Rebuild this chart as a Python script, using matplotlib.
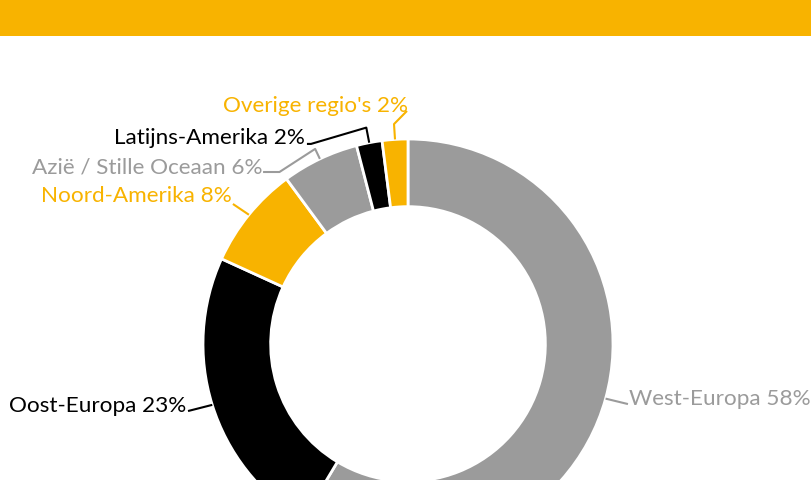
import numpy as np
import matplotlib.pyplot as plt
from matplotlib.patches import Rectangle

# Data
regios = ['West-Europa', 'Oost-Europa', 'Noord-Amerika', 'Azië / Stille Oceaan',
          'Latijns-Amerika', "Overige regio's"]
aandeel = [58, 23, 8, 6, 2, 2]

ORANJE = '#F8B300'
GRIJS = '#9B9B9B'
ZWART = '#000000'
kleuren = [GRIJS, ZWART, ORANJE, GRIJS, ZWART, ORANJE]

# layout of the labels (data units, donut radius = 1)
# (text x, text baseline y, ha, leader start x, leader start y, stub, elbow radius)
label_pos = [
    (1.078, -0.293, 'left', 1.073, -0.293, 0.0, 1.0),
    (-1.083, -0.327, 'right', -1.073, -0.327, 0.0, 1.0),
    (-0.859, 0.698, 'right', -0.854, 0.683, 0.0, 1.0),
    (-0.712, 0.839, 'right', -0.707, 0.839, 0.08, 1.054),
    (-0.502, 0.980, 'right', -0.493, 0.976, 0.02, 1.075),
    (0.0, 1.137, 'right', -0.005, 1.137, 0.0, 1.075),
]

plt.rcParams['font.family'] = ['Lato', 'DejaVu Sans']

W, H = 811, 481
fig = plt.figure(figsize=(W / 100, H / 100), dpi=100)
ax = fig.add_axes([0, 0, 1, 1])

wedges, _ = ax.pie(aandeel, colors=kleuren, startangle=90, counterclock=False,
                   radius=1.0, wedgeprops=dict(width=0.33, edgecolor='white', linewidth=2))

# pixel layout: centre (408, 345), radius 205 px
R = 205.0
cx, cy = 408.0, 345.0
ax.set_xlim(-cx / R, (W - cx) / R)
ax.set_ylim(-(H - cy) / R, cy / R)
ax.set_aspect('equal')
ax.axis('off')

for w, naam, pct, kleur, pos in zip(wedges, regios, aandeel, kleuren, label_pos):
    tx, ty, ha, lx, ly, stub, r_elb = pos
    mid = np.deg2rad((w.theta1 + w.theta2) / 2)
    px, py = np.cos(mid), np.sin(mid)
    ex, ey = r_elb * px, r_elb * py
    ax.plot([lx, lx + stub, ex, px], [ly, ly, ey, py], color=kleur, lw=1.5,
            solid_capstyle='butt')
    ax.text(tx, ty, f'{naam} {pct}%', color=kleur, fontsize=16.2,
            ha=ha, va='baseline')

# orange banner on top
fig.patches.append(Rectangle((0, 1 - 37 / H), 1, 37 / H, transform=fig.transFigure,
                             facecolor=ORANJE, edgecolor='none'))

fig.savefig('out.png', dpi=100)
